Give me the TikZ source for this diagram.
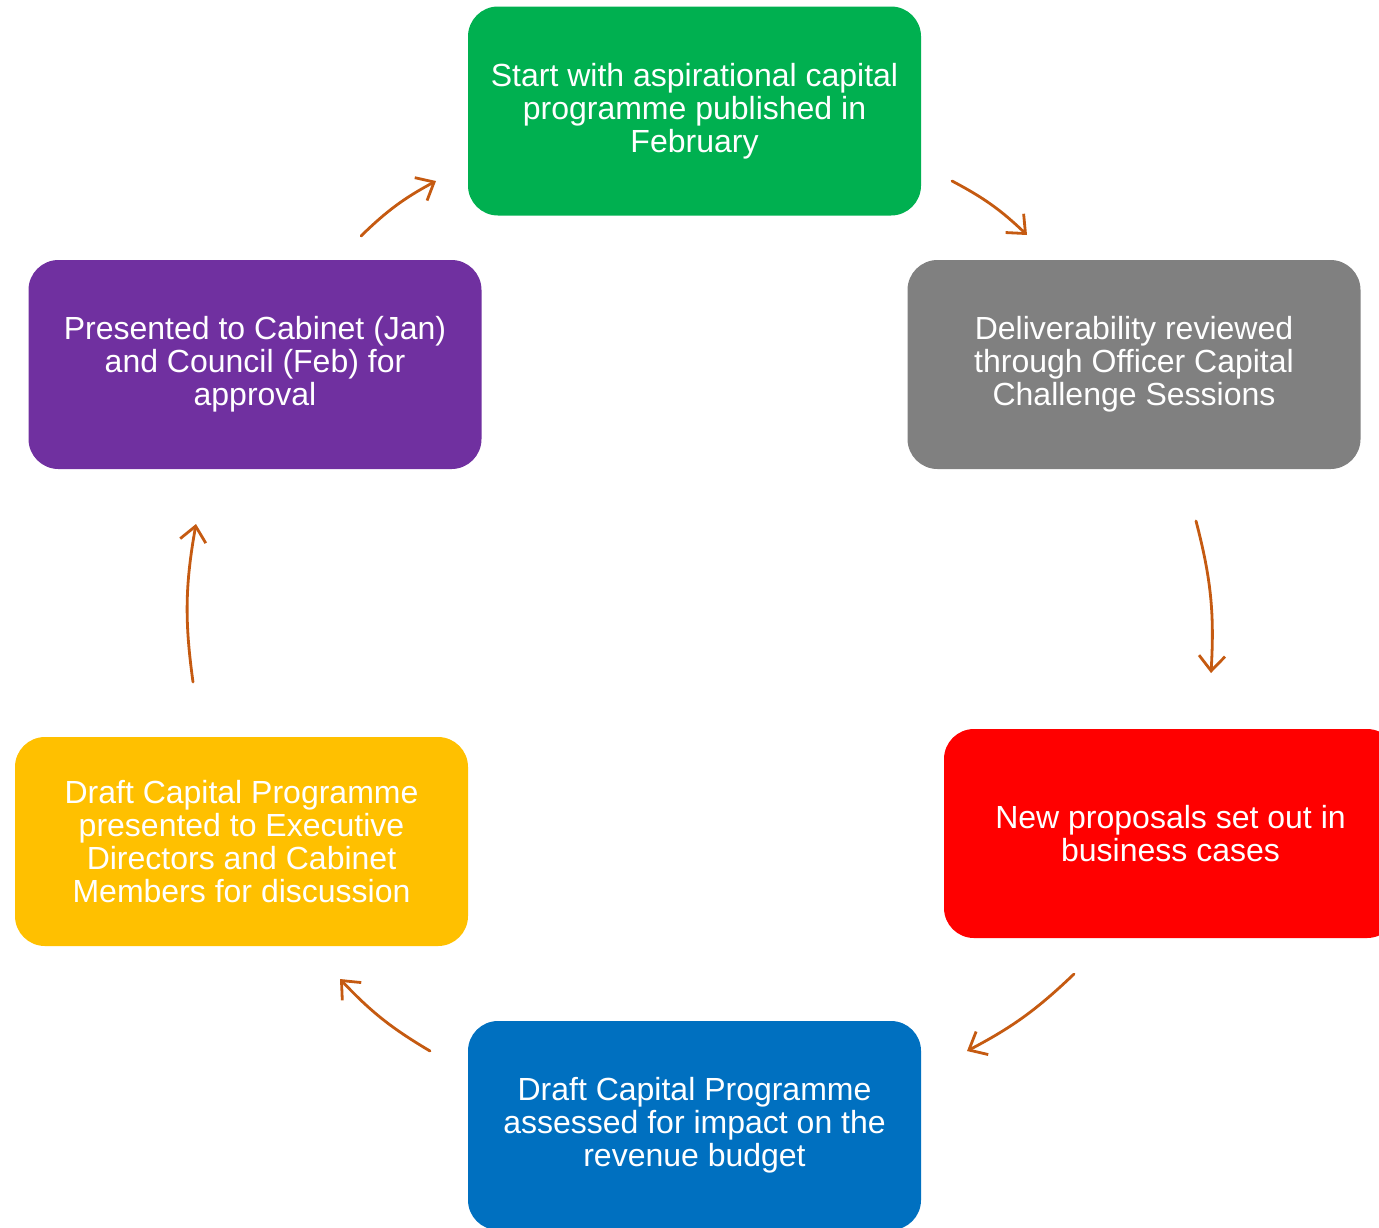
\documentclass[tikz,border=0pt]{standalone}
\usepackage{fontspec}
\setmainfont{Liberation Sans}
\usetikzlibrary{arrows.meta}
\definecolor{cgreen}{HTML}{00B050}
\definecolor{cgray}{HTML}{808080}
\definecolor{cred}{HTML}{FF0000}
\definecolor{cblue}{HTML}{0070C0}
\definecolor{cyellow}{HTML}{FFC000}
\definecolor{cpurple}{HTML}{7030A0}
\definecolor{carrow}{HTML}{C55A11}
\begin{document}
\begin{tikzpicture}[x=0.5pt,y=-0.5pt,
  box/.style={rounded corners=15pt, minimum width=226.5pt, minimum height=104.5pt,
    inner sep=0pt, align=center, text=white, font=\fontsize{16}{16.6}\selectfont,
    execute at begin node={\rule{0pt}{14pt}}},
  arr/.style={draw=carrow, line width=1.4pt, line cap=round,
    -{Straight Barb[length=7.5pt,width=13pt,line width=1.4pt]}}]
\useasboundingbox (0,0) rectangle (1379,1227);
\clip (0,0) rectangle (1379,1227);
\node[box, fill=cgreen] (green) at (694.5,111) {Start with aspirational capital\\programme published in\\February};
\node[box, fill=cgray] (gray) at (1134,364.5) {Deliverability reviewed\\through Officer Capital\\Challenge Sessions};
\node[box, fill=cred] (red) at (1170.5,833.5) {New proposals set out in\\business cases};
\node[box, fill=cblue] (blue) at (694.5,1125.5) {Draft Capital Programme\\assessed for impact on the\\revenue budget};
\node[box, fill=cyellow] (yellow) at (241.5,841.5) {Draft Capital Programme\\presented to Executive\\Directors and Cabinet\\Members for discussion};
\node[box, fill=cpurple] (purple) at (255,364.5) {Presented to Cabinet (Jan)\\and Council (Feb) for\\approval};
\coordinate (a1s) at (952,181);  \coordinate (a1e) at (1027,235);
\coordinate (a2s) at (1196,521); \coordinate (a2e) at (1211,673);
\coordinate (a3s) at (1074,974); \coordinate (a3e) at (967,1051);
\coordinate (a4s) at (430,1051); \coordinate (a4e) at (340,979);
\coordinate (a5s) at (193,682);  \coordinate (a5e) at (196,524);
\coordinate (a6s) at (361,236);  \coordinate (a6e) at (436,181);
\draw[arr] (a1s) to[bend left=8] (a1e);
\draw[arr] (a2s) to[bend left=9] (a2e);
\draw[arr] (a3s) to[bend left=8] (a3e);
\draw[arr] (a4s) to[bend left=8] (a4e);
\draw[arr] (a5s) to[bend left=9] (a5e);
\draw[arr] (a6s) to[bend left=8] (a6e);
\end{tikzpicture}
\end{document}
